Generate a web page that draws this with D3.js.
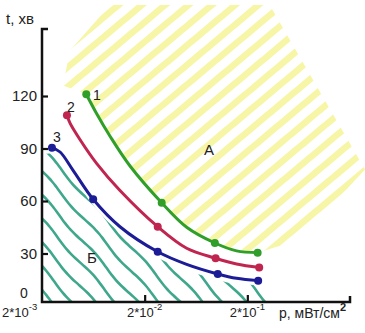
<!DOCTYPE html>
<html>
<head>
<meta charset="utf-8">
<script src="https://cdn.jsdelivr.net/npm/d3@7"></script>
<style>
  body { margin: 0; background: #fff; }
  svg { display: block; }
  text { font-family: "Liberation Sans", Arial, sans-serif; fill: #222; }
</style>
</head>
<body>
<svg id="chart" width="365" height="333"></svg>
<script>
// axis ticks
const pTicks = [0.002, 0.02, 0.2];
const pTickExp = ["-3", "-2", "-1"];
const tTicks = [30, 60, 90, 120];

// curve 1 (green)
const p1 = [0.0054, 0.0068, 0.0092, 0.0144, 0.0293, 0.0513, 0.0966, 0.157, 0.252];
const t1 = [121, 110, 97, 80, 59, 45, 36, 31.5, 30.5];
const dots1 = [0, 4, 6, 8];
// curve 2 (red)
const p2 = [0.0035, 0.00375, 0.0047, 0.0068, 0.0115, 0.0268, 0.0513, 0.0982, 0.157, 0.261];
const t2 = [109, 104.5, 95, 81.5, 66, 45.3, 33, 27.3, 24, 22];
const dots2 = [0, 5, 7, 9];
// curve 3 (blue)
const p3 = [0.0025, 0.003, 0.004, 0.0063, 0.0115, 0.0268, 0.0513, 0.103, 0.157, 0.255];
const t3 = [90.5, 88, 77.7, 61, 45.3, 31, 23.8, 18.3, 15.8, 14.5];
const dots3 = [0, 3, 5, 7, 9];

// zone A outline (upper right, closes along curve 1)
const aP = [0.0032, 0.00375, 0.0092, 0.33, 2.8, 0.65];
const aT = [126, 146, 172, 172, 78, 38];
// zone B outline (under curve 3)
const bP = [0.002].concat(p3, [0.33]);
const bT = [90].concat(t3, [0]);

const svg = d3.select("#chart");
const x = d3.scaleLog().domain([0.002, 2]).range([42, 350]);
const y = d3.scaleLinear().domain([0, 120]).range([306, 96]);
const axisY = 302;

const zip = (ps, ts) => ps.map((p, i) => [p, ts[i]]);
const curves = [
  { pts: zip(p1, t1), dots: dots1, color: "#2f9f2a", label: "1", lx: 93, ly: 100 },
  { pts: zip(p2, t2), dots: dots2, color: "#c02550", label: "2", lx: 67, ly: 112 },
  { pts: zip(p3, t3), dots: dots3, color: "#1c1c96", label: "3", lx: 53, ly: 142 },
];

// clip regions
const defs = svg.append("defs");
const aPts = zip(aP, aT).concat(zip(p1, t1).reverse());
defs.append("clipPath").attr("id", "clipA")
  .append("path")
  .attr("d", d3.line().x(d => x(d[0])).y(d => y(d[1]))(aPts) + "Z");

defs.append("clipPath").attr("id", "clipB")
  .append("path")
  .attr("d", d3.area().curve(d3.curveCatmullRom)
    .x(d => x(d[0])).y0(axisY).y1(d => Math.min(axisY, y(d[1]) + 6))(zip(bP, bT)));

// hatching: parallel lines at an angle, optionally wavy
function hatch(angle, spacing, amp, freq) {
  const a = angle * Math.PI / 180;
  const dx = Math.cos(a), dy = -Math.sin(a);
  const nx = -dy, ny = dx;
  const lines = [];
  for (let c = -700; c <= 700; c += spacing) {
    const pts = [];
    for (let s = -600; s <= 600; s += 5) {
      const w = amp * Math.sin(s * freq + c * 0.7);
      pts.push([c * nx + s * dx + w * nx, c * ny + s * dy + w * ny]);
    }
    lines.push(pts);
  }
  return lines;
}

svg.append("g").attr("clip-path", "url(#clipA)")
  .selectAll("path").data(hatch(40, 15, 0, 0)).join("path")
  .attr("d", d3.line())
  .attr("fill", "none")
  .attr("stroke", "#f6f6a6")
  .attr("stroke-width", 6.5);

svg.append("g").attr("clip-path", "url(#clipB)")
  .selectAll("path").data(hatch(-48, 16, 1.3, 0.09)).join("path")
  .attr("d", d3.line().curve(d3.curveBasis))
  .attr("fill", "none")
  .attr("stroke", "#3fa88c")
  .attr("stroke-width", 2.6);

// axes
const gy = svg.append("g").attr("transform", `translate(${x(0.002)},0)`)
  .call(d3.axisLeft(y).tickValues(tTicks).tickSize(-6).tickPadding(5));
gy.select(".domain").remove();
gy.selectAll(".tick line").attr("stroke", "#111").attr("stroke-width", 2.2);
gy.selectAll(".tick text").attr("font-size", 15).attr("fill", "#222")
  .attr("font-family", "Liberation Sans, Arial, sans-serif");

const gx = svg.append("g").attr("transform", `translate(0,${axisY})`)
  .call(d3.axisBottom(x).tickValues(pTicks.slice(1)).tickSize(-7).tickFormat(""));
gx.select(".domain").remove();
gx.selectAll(".tick line").attr("stroke", "#111").attr("stroke-width", 2.2);

svg.append("path")
  .attr("d", `M${x(0.002) + 6},29H${x(0.002)}V${axisY}H${x(2)}V${axisY - 6}`)
  .attr("fill", "none")
  .attr("stroke", "#111")
  .attr("stroke-width", 2.5);

svg.append("text").attr("x", 24).attr("y", 298).attr("text-anchor", "middle")
  .attr("font-size", 14).text("0");
svg.append("text").attr("x", 6).attr("y", 24).attr("font-size", 15).text("t, хв");

const xl = svg.selectAll(".xlab").data(pTicks).join("text")
  .attr("class", "xlab")
  .attr("x", (d, i) => (i === 0 ? 2 : x(d)))
  .attr("y", 317)
  .attr("text-anchor", (d, i) => (i === 0 ? "start" : "middle"))
  .attr("font-size", 13);
xl.append("tspan").text("2*10");
xl.append("tspan").attr("dy", -7).attr("font-size", 9.5).text((d, i) => pTickExp[i]);

const pl = svg.append("text").attr("x", 279).attr("y", 318).attr("font-size", 14);
pl.append("tspan").text("p, мВт/см");
pl.append("tspan").attr("dy", -7).attr("font-size", 11).attr("font-weight", "bold").text("2");

// curves
const line = d3.line().curve(d3.curveCatmullRom).x(d => x(d[0])).y(d => y(d[1]));
curves.forEach(c => {
  svg.append("path").attr("d", line(c.pts))
    .attr("fill", "none").attr("stroke", c.color)
    .attr("stroke-width", 3).attr("stroke-linecap", "round");
  svg.append("g").selectAll("circle").data(c.dots.map(i => c.pts[i])).join("circle")
    .attr("cx", d => x(d[0])).attr("cy", d => y(d[1])).attr("r", 4)
    .attr("fill", c.color);
  svg.append("text").attr("x", c.lx).attr("y", c.ly).attr("font-size", 14).text(c.label);
});

svg.append("text").attr("x", 204).attr("y", 155).attr("font-size", 15).text("А");
svg.append("text").attr("x", 87).attr("y", 263).attr("font-size", 15).text("Б");
</script>
</body>
</html>
